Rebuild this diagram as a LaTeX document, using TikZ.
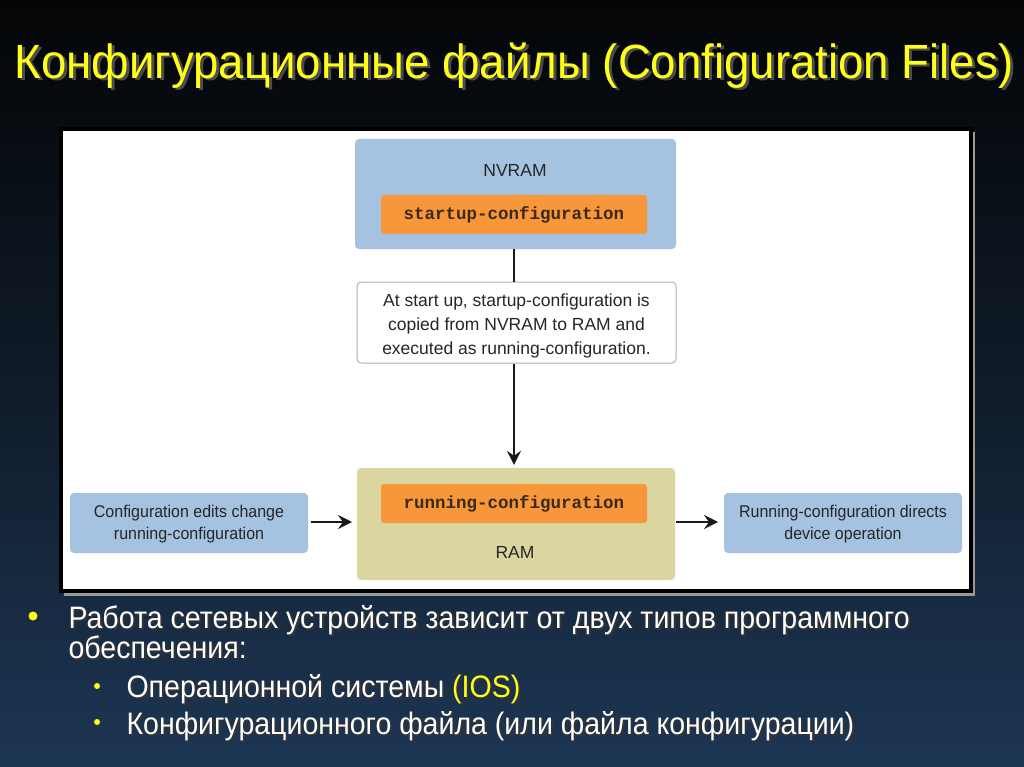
\documentclass[tikz,border=0pt]{standalone}
\usepackage{fontspec}
\setmainfont{Liberation Sans}
\newfontfamily\titlefont[FakeStretch=0.95]{Liberation Sans}
\newfontfamily\bodyfont[FakeStretch=0.92]{Liberation Sans}
\newfontfamily\diagfont{Liberation Sans}
\newfontfamily\sidefont[FakeStretch=0.94]{Liberation Sans}
\newfontfamily\codefont{Liberation Mono}
\usetikzlibrary{arrows.meta}
\definecolor{bgtop}{HTML}{040506}
\definecolor{bgbot}{HTML}{1D3654}
\definecolor{ttl}{HTML}{FFFF1A}
\definecolor{boxblue}{HTML}{A5C2E0}
\definecolor{boxorange}{HTML}{F7973A}
\definecolor{boxkhaki}{HTML}{DBD6A0}
\definecolor{codetext}{HTML}{3A2A1A}
\definecolor{linegray}{HTML}{B0B0B0}
\tikzset{
  bluebox/.style={fill=boxblue, rounded corners=4pt, draw=none},
  orangebox/.style={fill=boxorange, rounded corners=3pt, draw=none},
  khakibox/.style={fill=boxkhaki, rounded corners=4pt, draw=none},
  notebox/.style={fill=white, draw=linegray, line width=1pt, rounded corners=4pt},
  diagtext/.style={font=\diagfont\fontsize{17.5}{24}\selectfont, text=black!85, align=center},
  sidetext/.style={font=\sidefont\fontsize{17}{22}\selectfont, text=black!85, align=center},
  codetxt/.style={font=\codefont\bfseries\fontsize{17.5}{20}\selectfont, text=codetext},
  conn/.style={line width=2pt, draw=black!90},
  arr/.style={conn, -{Stealth[length=14pt,width=14pt,inset=5pt]}},
  btext/.style={anchor=base west, font=\bodyfont\fontsize{31}{36}\selectfont, text=white},
  bshadow/.style={btext, text=black!80},
}
\begin{document}
\begin{tikzpicture}[x=1pt,y=-1pt]
\shade[top color=bgtop, bottom color=bgbot, middle color=bgtop!55!bgbot] (0,0) rectangle (1024,767);
\useasboundingbox (0,0) rectangle (1024,767);
% title
\node[anchor=base west, text=black!70, font=\titlefont\fontsize{48}{52}\selectfont] at (14,81) {Конфигурационные файлы (Configuration Files)};
\node[anchor=base west, text=ttl, font=\titlefont\fontsize{48}{52}\selectfont] (title) at (11,79) {Конфигурационные файлы (Configuration Files)};
% panel
\fill[black!40] (64,132) rectangle (975,596);
\fill[black] (59,127) rectangle (973,593);
\fill[white] (63,131) rectangle (969,589);
% NVRAM
\node[bluebox, minimum width=321pt, minimum height=110pt] (nvram) at (515.5,194) {};
\node[diagtext] (nvramlbl) at (515,170) {NVRAM};
\node[orangebox, minimum width=266pt, minimum height=39pt, codetxt] (startup) at (514,214.5) {startup-configuration};
% note
\node[notebox, minimum width=319pt, minimum height=81pt] (note) at (516.5,322.5) {};
\node[diagtext] (notetext) at (516.5,326) {At start up, startup-configuration is\\copied from NVRAM to RAM and\\executed as running-configuration.};
% RAM
\node[khakibox, minimum width=318pt, minimum height=112pt] (ram) at (516,524) {};
\node[orangebox, minimum width=266pt, minimum height=39pt, codetxt] (running) at (514,503.5) {running-configuration};
\node[diagtext] (ramlbl) at (515,552) {RAM};
% side boxes
\node[bluebox, minimum width=238pt, minimum height=60pt] (edits) at (189,523) {};
\node[sidetext] (editstext) at (189,524) {Configuration edits change\\running-configuration};
\node[bluebox, minimum width=238pt, minimum height=60pt] (directs) at (843,523) {};
\node[sidetext] (directstext) at (843,524) {Running-configuration directs\\device operation};
% connectors
\draw[conn] (nvram.south -| startup.south) -- (note.north -| startup.south);
\draw[arr] (note.south -| startup.south) -- ([yshift=3pt]ram.north -| startup.south);
\coordinate (ein) at (352,522);
\coordinate (dout) at (718,522);
\draw[arr] ([xshift=3pt]edits.east |- ein) -- (ein);
\draw[arr] ([xshift=1pt]ram.east |- dout) -- (dout);
% bullets
\fill[ttl] (33,616) circle (4.5pt);
\node[bshadow] at (67,630) {Работа сетевых устройств зависит от двух типов программного};
\node[btext] (b1) at (65,628) {Работа сетевых устройств зависит от двух типов программного};
\node[bshadow] at (67,660) {обеспечения:};
\node[btext] (b1b) at (65,658) {обеспечения:};
\fill[ttl] (97,686) circle (3pt);
\node[bshadow] at (125,699) {Операционной системы (IOS)};
\node[btext] (b2) at (123,697) {Операционной системы \textcolor{ttl}{(IOS)}};
\fill[ttl] (97,722) circle (3pt);
\node[bshadow] at (125,736) {Конфигурационного файла (или файла конфигурации)};
\node[btext] (b3) at (123,734) {Конфигурационного файла (или файла конфигурации)};
\end{tikzpicture}
\end{document}
